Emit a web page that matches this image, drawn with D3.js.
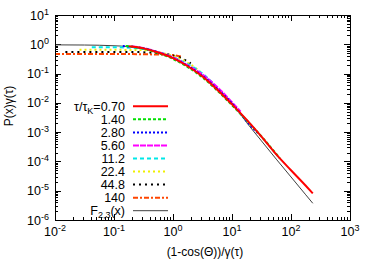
<!DOCTYPE html>
<html>
<head>
<meta charset="utf-8">
<script src="https://cdn.jsdelivr.net/npm/d3@7"></script>
<style>
  body { margin: 0; background: #fff; }
  text { font-family: "Liberation Sans", Arial, sans-serif; fill: #000; }
</style>
</head>
<body>
<div id="chart"></div>
<script>
// data (x, P(x)γ)
const xF   = [0.01, 0.0316, 0.1, 0.178, 0.316, 0.562, 1, 1.78, 3.16, 5.62, 10, 17.8, 31.6, 56.2, 100, 178, 234];
const yF   = [0.955, 0.944, 0.891, 0.832, 0.692, 0.501, 0.331, 0.178, 0.0832, 0.0316, 0.01, 0.00209, 5.01e-4, 1.2e-4, 2.95e-5, 7.24e-6, 3.72e-6];
const x070 = [0.178, 0.316, 0.562, 1, 1.78, 3.16, 5.62, 10, 17.8, 31.6, 56.2, 100, 178, 234];
const y070 = [0.851, 0.724, 0.525, 0.339, 0.178, 0.0794, 0.0282, 0.00891, 0.00263, 7.08e-4, 1.74e-4, 5.01e-5, 1.48e-5, 8.13e-6];
const x140 = [0.158, 0.316, 0.562, 1, 1.78, 3.16, 5.62, 10, 17.8, 31.6, 64.6];
const y140 = [0.871, 0.708, 0.501, 0.316, 0.166, 0.0741, 0.0263, 0.00832, 0.00251, 7.08e-4, 1.29e-4];
const x280 = [0.141, 0.316, 0.562, 1, 1.78, 3.16, 5.62, 10, 20, 28];
const y280 = [0.871, 0.724, 0.525, 0.339, 0.182, 0.0832, 0.0302, 0.00955, 0.00178, 8.91e-4];
const x560 = [0.2, 0.316, 0.562, 1, 1.78, 3.16, 5.62, 10, 14];
const y560 = [0.851, 0.741, 0.537, 0.355, 0.191, 0.0933, 0.0347, 0.0105, 0.00501];
const x112 = [0.042, 0.1, 0.316, 0.562, 1, 1.78, 3.16, 5.25];
const y112 = [0.794, 0.794, 0.692, 0.537, 0.363, 0.209, 0.1, 0.038];
const x224 = [0.026, 0.1, 0.316, 0.562, 1, 1.78, 2.88];
const y224 = [0.646, 0.646, 0.631, 0.537, 0.398, 0.234, 0.117];
const x448 = [0.015, 0.1, 0.316, 0.562, 1, 1.41, 2.0];
const y448 = [0.55, 0.55, 0.537, 0.501, 0.417, 0.331, 0.224];
const x1400 = [0.01, 0.1, 0.316, 0.562, 1, 1.4];
const y1400 = [0.468, 0.468, 0.457, 0.447, 0.427, 0.38];

const labels = ["0.70", "1.40", "2.80", "5.60", "11.2", "22.4", "44.8", "140"];
const xTickExp = [-2, -1, 0, 1, 2, 3];
const yTickExp = [-6, -5, -4, -3, -2, -1, 0, 1];

const series = [
  {x: x070, y: y070, color: "#ff0000", dash: null},
  {x: x140, y: y140, color: "#00e000", dash: "3,2"},
  {x: x280, y: y280, color: "#0000ff", dash: "2,2"},
  {x: x560, y: y560, color: "#ff00ff", dash: "6,1"},
  {x: x112, y: y112, color: "#00e8e8", dash: "4,3"},
  {x: x224, y: y224, color: "#f0f000", dash: "2,3"},
  {x: x448, y: y448, color: "#000000", dash: "2,4"},
  {x: x1400, y: y1400, color: "#ff4500", dash: "5,2,2,2"}
];

const W = 374, H = 262;
const margin = {top: 15, right: 24, bottom: 42, left: 55};
const width = W - margin.left - margin.right;
const height = H - margin.top - margin.bottom;

const svg = d3.select("#chart").append("svg")
    .attr("width", W)
    .attr("height", H);

const g = svg.append("g")
    .attr("transform", "translate(" + margin.left + "," + margin.top + ")");

const x = d3.scaleLog().domain([1e-2, 1e3]).range([0, width]);
const y = d3.scaleLog().domain([1e-6, 1e1]).range([height, 0]);

// minor + major ticks on all four sides
const minorX = [], minorY = [];
for (let e = -2; e < 3; e++) for (let m = 2; m < 10; m++) minorX.push(m * Math.pow(10, e));
for (let e = -6; e < 1; e++) for (let m = 2; m < 10; m++) minorY.push(m * Math.pow(10, e));

const tickG = g.append("g").attr("stroke", "#000").attr("stroke-width", 1);
xTickExp.forEach(function(e) {
  const px = Math.round(x(Math.pow(10, e))) + 0.5;
  tickG.append("line").attr("x1", px).attr("x2", px).attr("y1", height).attr("y2", height - 6);
  tickG.append("line").attr("x1", px).attr("x2", px).attr("y1", 0).attr("y2", 6);
});
minorX.forEach(function(v) {
  const px = Math.round(x(v)) + 0.5;
  tickG.append("line").attr("x1", px).attr("x2", px).attr("y1", height).attr("y2", height - 3);
  tickG.append("line").attr("x1", px).attr("x2", px).attr("y1", 0).attr("y2", 3);
});
yTickExp.forEach(function(e) {
  const py = Math.round(y(Math.pow(10, e))) + 0.5;
  tickG.append("line").attr("x1", 0).attr("x2", 6).attr("y1", py).attr("y2", py);
  tickG.append("line").attr("x1", width).attr("x2", width - 6).attr("y1", py).attr("y2", py);
});
minorY.forEach(function(v) {
  const py = Math.round(y(v)) + 0.5;
  tickG.append("line").attr("x1", 0).attr("x2", 3).attr("y1", py).attr("y2", py);
  tickG.append("line").attr("x1", width).attr("x2", width - 3).attr("y1", py).attr("y2", py);
});

// tick labels
g.selectAll(".xlab").data(xTickExp).join("text")
    .attr("x", function(d) { return x(Math.pow(10, d)); })
    .attr("y", height + 16)
    .attr("text-anchor", "middle")
    .style("font-size", "12.5px")
    .each(function(d) {
      const t = d3.select(this);
      t.append("tspan").text("10");
      t.append("tspan").attr("dy", -5).style("font-size", "9px").text(d);
    });

g.selectAll(".ylab").data(yTickExp).join("text")
    .attr("x", -6)
    .attr("y", function(d) { return y(Math.pow(10, d)) + 4.5; })
    .attr("text-anchor", "end")
    .style("font-size", "12.5px")
    .each(function(d) {
      const t = d3.select(this);
      t.append("tspan").text("10");
      t.append("tspan").attr("dy", -5).style("font-size", "9px").text(d);
    });

// axis titles
svg.append("text")
    .attr("x", 205)
    .attr("y", 256)
    .attr("text-anchor", "middle")
    .style("font-size", "12px")
    .text("(1-cos(\u0398))/\u03b3(\u03c4)");

svg.append("text")
    .attr("transform", "translate(13,106)rotate(-90)")
    .attr("text-anchor", "middle")
    .style("font-size", "12px")
    .text("P(x)\u03b3(\u03c4)");

// curves
const line = d3.line()
    .x(function(d) { return x(d[0]); })
    .y(function(d) { return y(d[1]); })
    .curve(d3.curveMonotoneX);

g.append("path")
    .datum(d3.zip(xF, yF))
    .attr("d", line)
    .attr("fill", "none")
    .attr("stroke", "#404040")
    .attr("stroke-width", 1);

series.slice().reverse().forEach(function(s) {
  g.append("path")
      .datum(d3.zip(s.x, s.y))
      .attr("d", line)
      .attr("fill", "none")
      .attr("stroke", s.color)
      .attr("stroke-width", 2)
      .attr("stroke-dasharray", s.dash);
});

// legend
const legX1 = 133 - margin.left, legX2 = 168 - margin.left;
const legY0 = 106.3 - margin.top, legDy = 13.05;
series.forEach(function(s, i) {
  const ly = legY0 + i * legDy;
  g.append("line")
      .attr("x1", legX1).attr("x2", legX2)
      .attr("y1", ly).attr("y2", ly)
      .attr("stroke", s.color)
      .attr("stroke-width", 2)
      .attr("stroke-dasharray", s.dash);
  const t = g.append("text")
      .attr("x", 125 - margin.left)
      .attr("y", ly + 4.5)
      .attr("text-anchor", "end")
      .style("font-size", "12.5px");
  if (i === 0) {
    t.append("tspan").text("\u03c4/\u03c4");
    t.append("tspan").attr("dy", 3).style("font-size", "9px").text("K");
    t.append("tspan").attr("dy", -3).text("=" + labels[i]);
  } else {
    t.text(labels[i]);
  }
});
const fy = legY0 + 8 * legDy;
g.append("line")
    .attr("x1", legX1).attr("x2", legX2)
    .attr("y1", fy).attr("y2", fy)
    .attr("stroke", "#404040")
    .attr("stroke-width", 1);
const ft = g.append("text")
    .attr("x", 125 - margin.left)
    .attr("y", fy + 4.5)
    .attr("text-anchor", "end")
    .style("font-size", "12.5px");
ft.append("tspan").text("F");
ft.append("tspan").attr("dy", 3).style("font-size", "9px").text("2,3");
ft.append("tspan").attr("dy", -3).text("(x)");

// frame
g.append("rect")
    .attr("x", 0.5).attr("y", 0.5)
    .attr("width", width).attr("height", height)
    .attr("fill", "none")
    .attr("stroke", "#000")
    .attr("stroke-width", 1);
</script>
</body>
</html>
